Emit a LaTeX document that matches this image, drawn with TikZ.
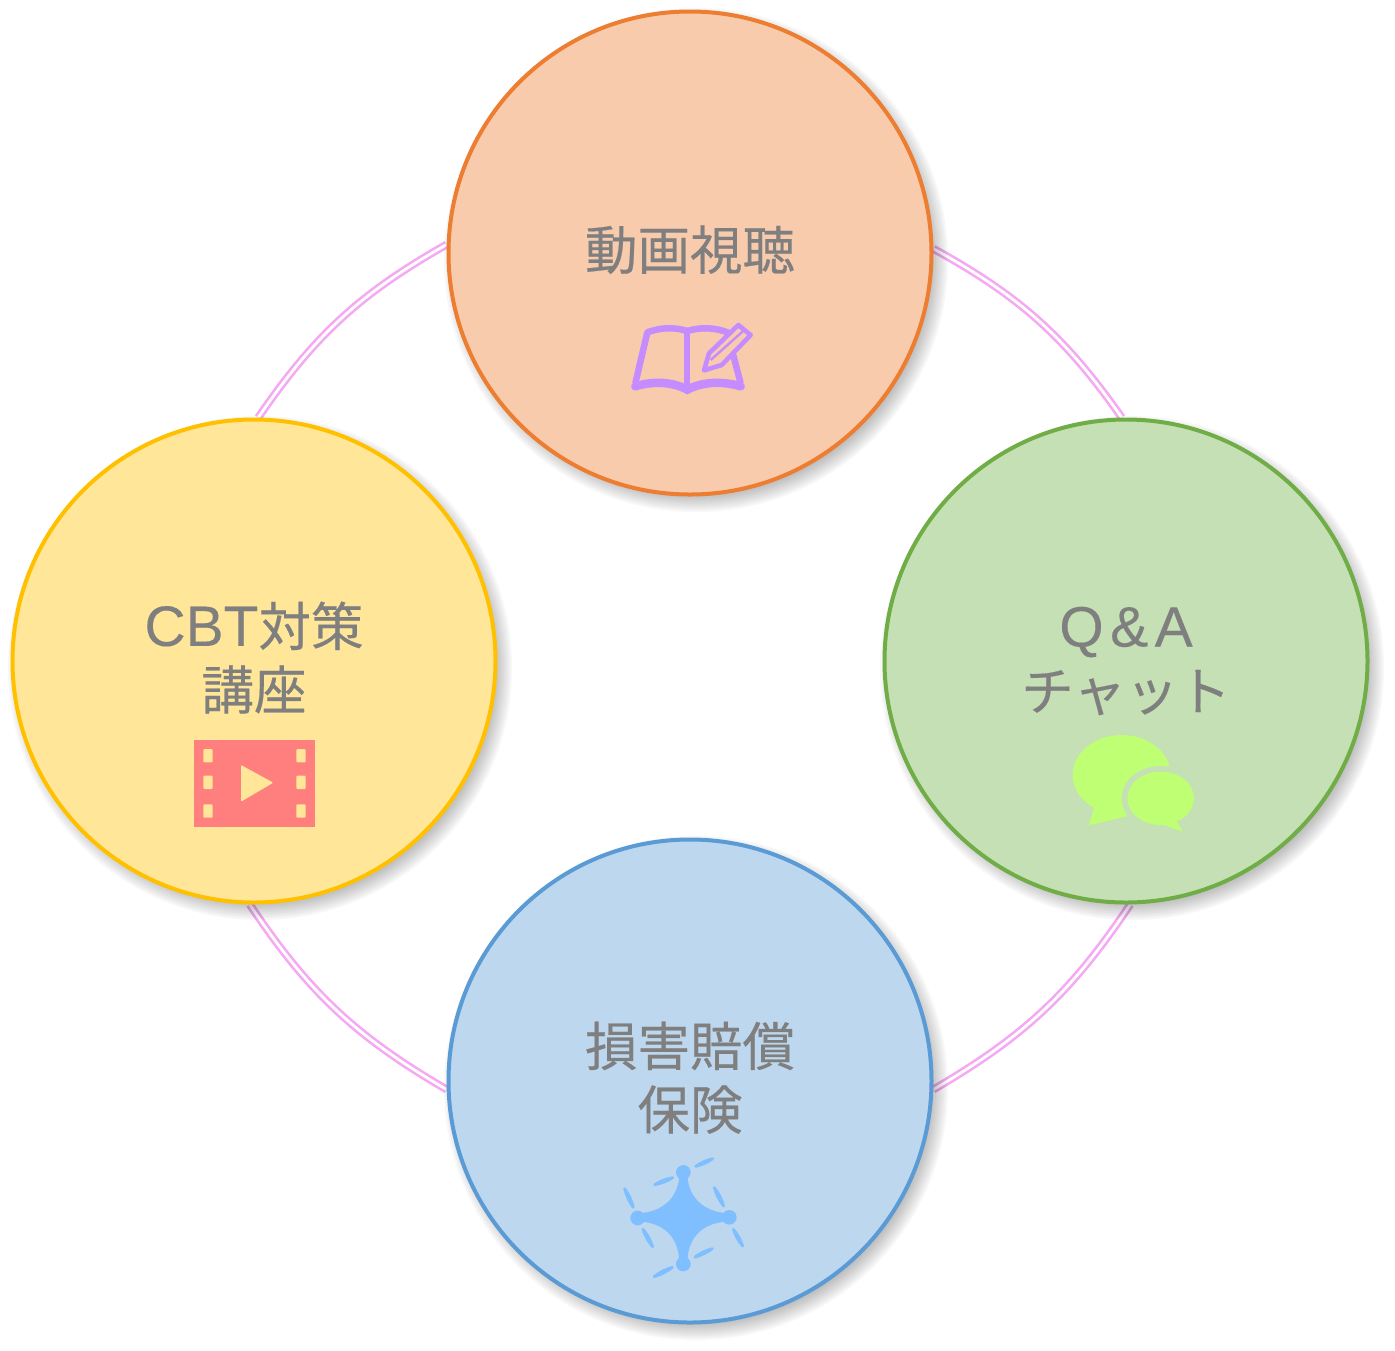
\documentclass[tikz,border=0pt]{standalone}
\usepackage{fontspec}
\newfontfamily\cjk[FakeBold=0.35]{Noto Sans CJK JP}
\newfontfamily\latinf[FakeBold=0.2]{Liberation Sans}
\usetikzlibrary{backgrounds,calc}
\definecolor{txt}{HTML}{7F7F7F}
\definecolor{ringc}{HTML}{F4A9F2}
\definecolor{fT}{HTML}{F8CBAD}\definecolor{sT}{HTML}{ED7D31}
\definecolor{fR}{HTML}{C5E0B4}\definecolor{sR}{HTML}{70AD47}
\definecolor{fL}{HTML}{FFE699}\definecolor{sL}{HTML}{FFC000}
\definecolor{fB}{HTML}{BDD7EE}\definecolor{sB}{HTML}{5B9BD5}
\definecolor{book}{HTML}{C58CFF}
\definecolor{drone}{HTML}{80BFFF}
\definecolor{chat}{HTML}{BFFF73}
\definecolor{film}{HTML}{FF7F7F}
\tikzset{
  disc/.style={circle,minimum size=483,inner sep=0pt,line width=4pt,align=center,
    text=txt,font=\cjk\fontsize{52.5}{63.5}\selectfont},
  ringline/.style={double=white,draw=ringc,line width=2.6pt,double distance=2.8pt},
}
\newcommand{\lift}{\rule[-11pt]{0pt}{1pt}}
\newcommand{\softshadow}[1]{%
  \foreach \d in {-6,-4,...,10}{%
    \fill[black,opacity=.03] ($(#1)+(6,7)$) circle ({242+\d});}}
\begin{document}
\begin{tikzpicture}[x=1pt,y=-1pt]
\useasboundingbox (0,0) rectangle (1395,1350);
\node[disc,fill=fT,draw=sT] (top) at (690,253) {動画視聴\lift};
\node[disc,fill=fR,draw=sR] (right) at (1126,661) {{\latinf\fontsize{57}{63.5}\selectfont Q\hspace{6.5pt}\&\hspace{6.5pt}A}\\[.5pt]チャット};
\node[disc,fill=fL,draw=sL] (left) at (254,661) {{\latinf\fontsize{57}{63.5}\selectfont CBT}対策\\講座\lift};
\node[disc,fill=fB,draw=sB] (bottom) at (690,1081) {損害賠償\\保険\lift};
\begin{pgfonlayer}{background}
  \draw[ringline] (top.1.4) to[bend left=13] (right.91);
  \draw[ringline] (right.-89) to[bend left=13] (bottom.-2.6);
  \draw[ringline] (bottom.182.6) to[bend left=13] (left.-91);
  \draw[ringline] (left.89) to[bend left=13] (top.178.6);
  \softshadow{top}\softshadow{right}\softshadow{left}\softshadow{bottom}
\end{pgfonlayer}
% book
\begin{scope}[shift={(610,300)},scale=1/3]
  \draw[book,line width=6.5pt,line join=round] (232,93) .. controls (190,80) and (150,83) .. (112,97) -- (76,250);
  \draw[book,line width=6.5pt] (232,93) .. controls (275,80) and (315,83) .. (352,97) -- (392,250);
  \draw[book,line width=6pt] (232,90) -- (232,275);
  \draw[book,line width=8.5pt,line cap=round] (76,259) .. controls (130,242) and (190,246) .. (232,269) .. controls (275,246) and (335,242) .. (392,259);
  \draw[book,fill=fT,line width=4.6pt,line join=round] (282,211) -- (297,160) -- (385,75) -- (422,105) -- (335,195) -- cycle;
  \draw[book,line width=2.4pt] (302,180) -- (403,90);
\end{scope}
% chat
\begin{scope}[shift={(1050,720)},scale=1/3]
  \fill[chat] (215,165) ellipse [x radius=147,y radius=120];
  \fill[chat] (135,255) -- (116,316) -- (234,288) -- cycle;
  \fill[fR] (332,235) ellipse [x radius=117,y radius=97];
  \fill[chat] (332,235) ellipse [x radius=100,y radius=80];
  \fill[chat] (300,300) -- (398,335) -- (375,295) -- cycle;
\end{scope}
% film
\begin{scope}[shift={(180,730)},scale=1/3]
  \fill[film] (42,30) rectangle (405,290);
  \foreach \y in {57,137,223}{
    \fill[fL,rounded corners=1pt] (70,\y) rectangle (98,\y+40);
    \fill[fL,rounded corners=1pt] (349,\y) rectangle (377,\y+40);
  }
  \fill[fL,rounded corners=1pt] (183,105) -- (280,158) -- (183,215) -- cycle;
\end{scope}
% drone
\begin{scope}[shift={(600,1140)},scale=1/3]
  \fill[drone] (238,100) .. controls (238,165) and (195,218) .. (110,220) -- (110,244)
    .. controls (195,246) and (238,295) .. (238,370) -- (262,370)
    .. controls (262,295) and (305,246) .. (390,244) -- (390,220)
    .. controls (305,218) and (262,165) .. (262,100) -- cycle;
  \foreach \p in {(250,97),(388,232),(250,372),(113,234)} \fill[drone] \p circle (22);
  \foreach \a/\b/\c/\d in {287/79/338/56, 164/134/218/113, 74/146/100/202, 129/268/158/320, 343/143/371/198, 400/268/428/318, 285/351/337/326, 162/410/217/382}
    \fill[drone,draw=drone,line width=2.8pt,line join=round,line cap=round] (\a,\b) to[bend left=10] (\c,\d) to[bend left=10] (\a,\b) -- cycle;
\end{scope}
\end{tikzpicture}
\end{document}
